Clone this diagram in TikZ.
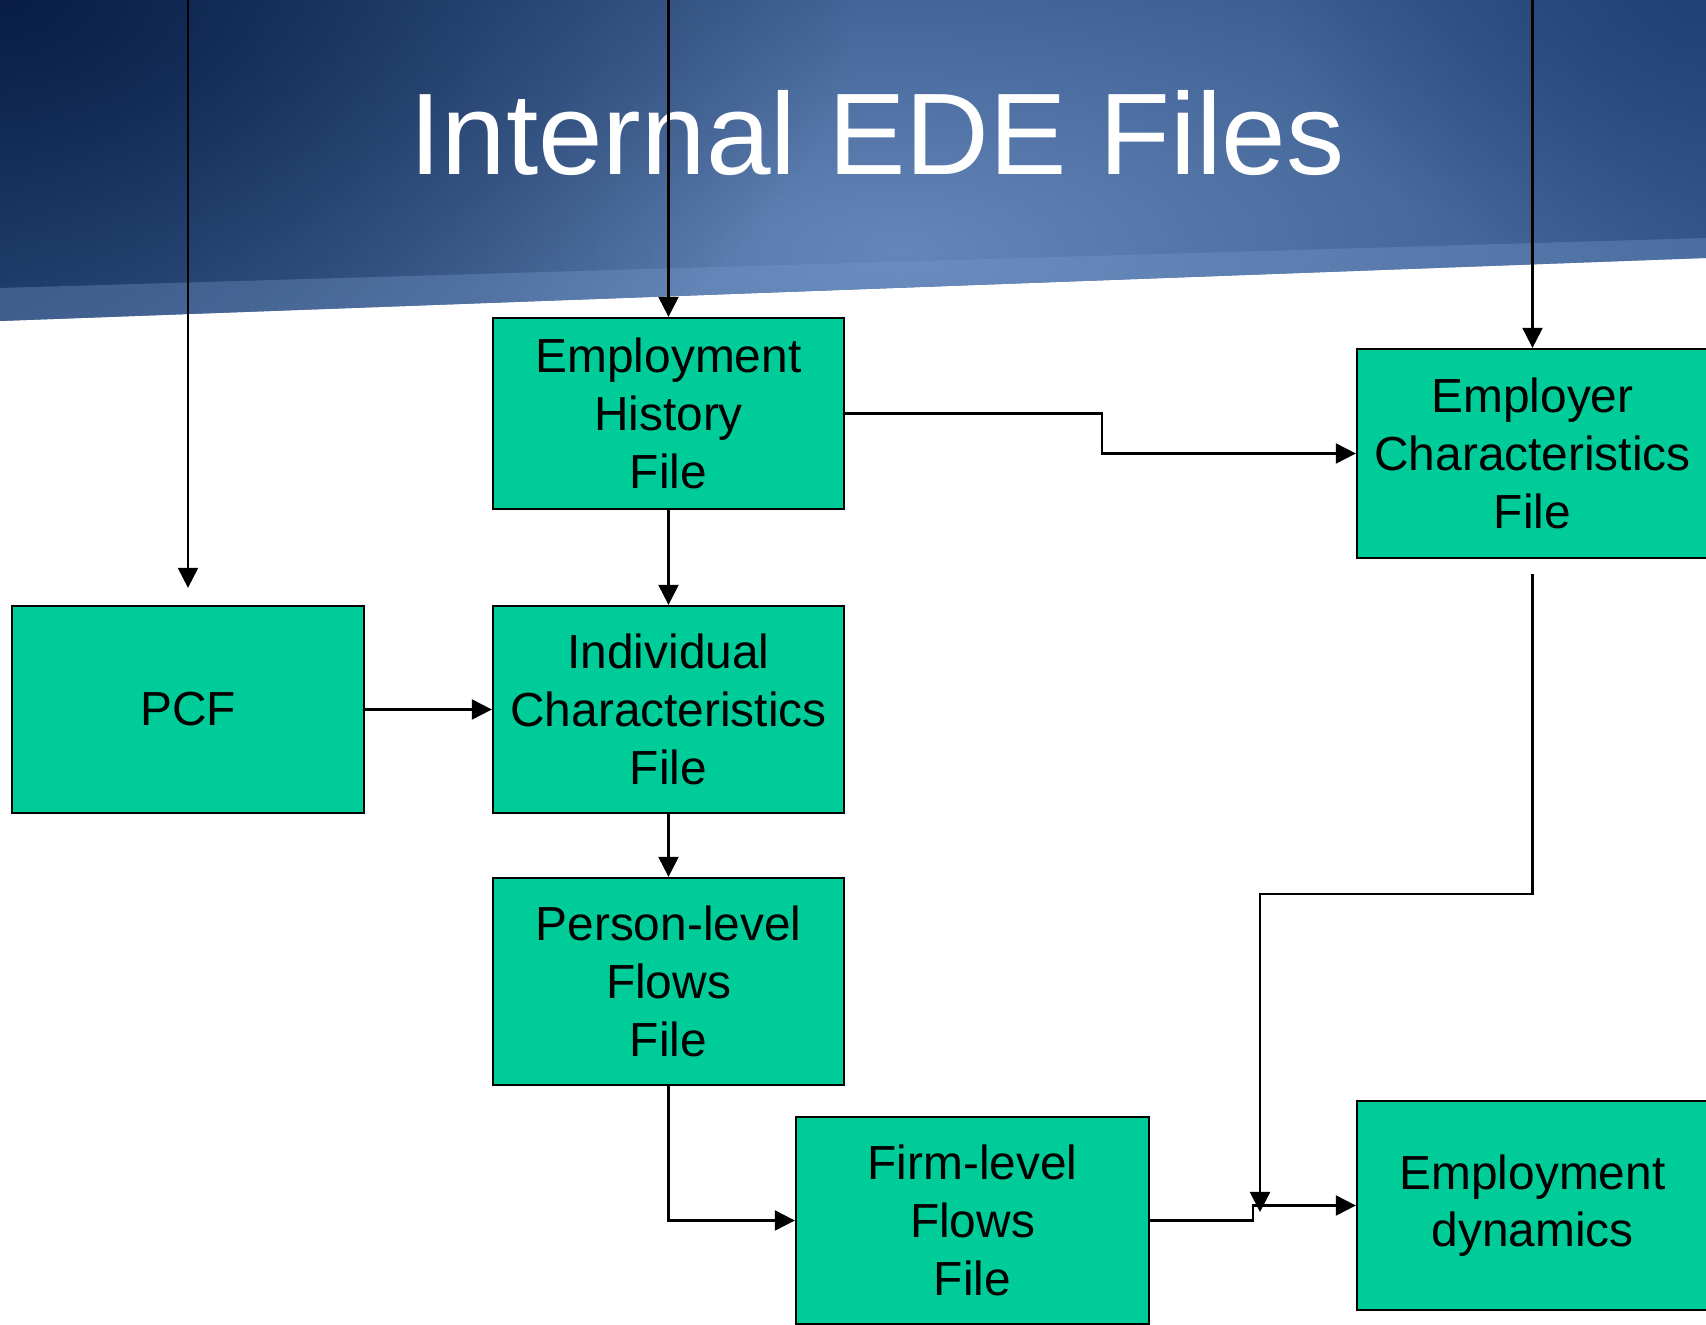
\documentclass[tikz,border=0pt]{standalone}
\usepackage{fontspec}
\setmainfont{Liberation Sans}
\usetikzlibrary{arrows.meta,fadings}

\definecolor{boxgreen}{RGB}{0,204,153}
\definecolor{bandbase}{RGB}{44,78,128}
\definecolor{bandlight}{RGB}{100,134,184}
\definecolor{banddark}{RGB}{8,30,70}
\definecolor{bandright}{RGB}{28,62,112}
\definecolor{bandedge}{RGB}{120,154,204}

% radial fade: opaque in the middle, clear at the rim
\tikzfading[name=softspot, inner color=transparent!0, outer color=transparent!100]

\tikzset{
  filebox/.style={draw=black, line width=0.6pt, fill=boxgreen, align=center,
    inner sep=0pt, font=\fontsize{13.6pt}{16.4pt}\selectfont},
  flow/.style={draw=black, line width=0.6pt,
    -{Triangle[length=0.2cm,width=0.2cm]}}
}

\begin{document}
\begin{tikzpicture}[x=0.01cm, y=-0.01cm]
  \useasboundingbox (0,0) rectangle (1706,1325);

  % header band with slanted lower edge
  \begin{scope}
    \clip (0,0) -- (1706,0) -- (1706,258) -- (0,321) -- cycle;
    \fill[bandbase] (0,0) rectangle (1706,330);
    \fill[bandlight, path fading=softspot]
      (900,250) ellipse [x radius=1000, y radius=420];
    \fill[bandright, path fading=softspot, opacity=0.8]
      (1706,0) ellipse [x radius=420, y radius=280];
    \fill[banddark, path fading=softspot]
      (0,0) ellipse [x radius=850, y radius=500];
    \fill[bandedge, opacity=0.35] (0,321) -- (1706,258) -- (1706,238) -- (0,288) -- cycle;
  \end{scope}

  \node[anchor=base, text=white, font=\fontsize{33pt}{40pt}\selectfont]
    (title) at (877,175) {Internal EDE Files};

  % file boxes
  \node[filebox, minimum width=3.51cm, minimum height=1.91cm]
    (EH) at (668.5,413.5) {Employment\\History\\File};
  \node[filebox, minimum width=3.51cm, minimum height=2.09cm]
    (EC) at (1532.5,453.5) {Employer\\Characteristics\\File};
  \node[filebox, minimum width=3.52cm, minimum height=2.07cm]
    (PCF) at (188,709.5) {PCF};
  \node[filebox, minimum width=3.51cm, minimum height=2.07cm]
    (IC) at (668.5,709.5) {Individual\\Characteristics\\File};
  \node[filebox, minimum width=3.51cm, minimum height=2.07cm]
    (PL) at (668.5,981.5) {Person-level\\Flows\\File};
  \node[filebox, minimum width=3.53cm, minimum height=2.07cm]
    (FF) at (972.5,1220.5) {Firm-level\\Flows\\File};
  \node[filebox, minimum width=3.51cm, minimum height=2.09cm]
    (ED) at (1532.5,1205.5) {Employment\\dynamics};

  % inputs entering from above
  \coordinate (inL) at (188,0);
  \coordinate (inM) at (668.5,0);
  \coordinate (inR) at (1532.5,0);
  \coordinate (jn) at (1260,1212);

  \draw[flow, shorten >=0.17cm] (inL) -- (PCF.north);
  \draw[flow] (inM) -- (EH.north);
  \draw[flow] (inR) -- (EC.north);

  % flows between files
  \draw[flow] (EH.east) -- ++(257,0) |- (EC.west);
  \draw[flow] (EH.south) -- (IC.north);
  \draw[flow] (PCF.east) -- (IC.west);
  \draw[flow] (IC.south) -- (PL.north);
  \draw[flow] (PL.south) |- (FF.west);
  \draw[flow] (FF.east) -- ++(103,0) |- (ED.west);
  \draw[flow, shorten <=0.15cm] (EC.south) -- ++(0,335) -| (jn);
\end{tikzpicture}
\end{document}
